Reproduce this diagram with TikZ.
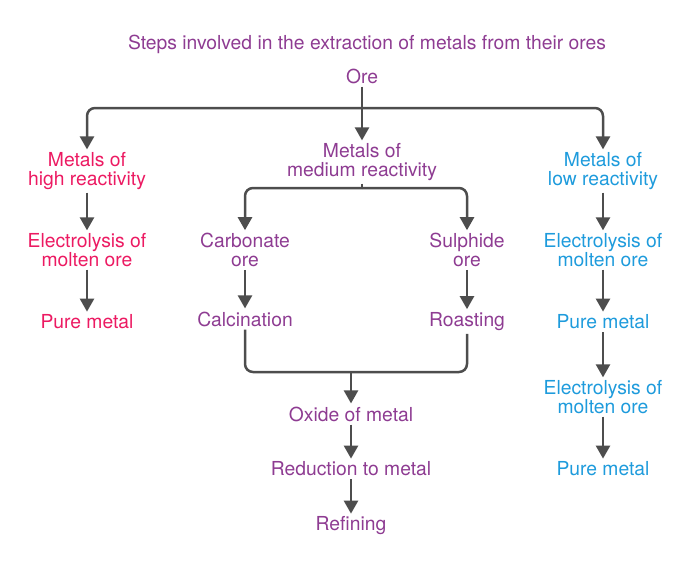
\documentclass[tikz,border=0pt]{standalone}
\usepackage{fontspec}
\setmainfont{TeX Gyre Heros}
\usetikzlibrary{arrows.meta,positioning}

\definecolor{oreviolet}{HTML}{8E3C92}
\definecolor{orepink}{HTML}{EC1A62}
\definecolor{oreblue}{HTML}{1E9BDC}
\definecolor{oregrey}{HTML}{4D4D4D}

\tikzset{
  steptext/.style={align=center,inner sep=3pt,font=\fontsize{19.3}{18.5}\selectfont},
  high/.style={steptext,text=orepink},
  medium/.style={steptext,text=oreviolet},
  low/.style={steptext,text=oreblue},
  link/.style={draw=oregrey,line width=2.5pt,rounded corners=8pt},
  arr/.style={link,-{Triangle[length=13pt,width=14pt]}}
}

\begin{document}
\begin{tikzpicture}[x=1pt,y=-1pt]
  \useasboundingbox (0,0) rectangle (700,575);

  % Title and the ore
  \node[medium] (title) at (367,44) {Steps involved in the extraction of metals from their ores};
  \node[medium] (ore) at (362,76) {Ore};

  % Three groups of metals
  \node[high]   (highm) at (87,171)  {Metals of\\high reactivity};
  \node[medium] (medm)  at (362,162) {Metals of\\medium reactivity};
  \node[low]    (lowm)  at (603,171) {Metals of\\low reactivity};

  \coordinate (split) at (362,108);
  \draw[link] (ore) -- (split);
  \draw[arr] (split) -| (highm);
  \draw[arr] (split) -| (lowm);
  \draw[arr] (split) -- (medm);

  % High reactivity
  \node[high] (elechigh) at (87,250) {Electrolysis of\\molten ore};
  \node[high] (purehigh) at (87,322) {Pure metal};
  \draw[arr] (highm) -- (elechigh);
  \draw[arr] (elechigh) -- (purehigh);

  % Medium reactivity
  \node[medium] (carb) at (245,250) {Carbonate\\ore};
  \node[medium] (sulph) at (467,250) {Sulphide\\ore};
  \coordinate (fork) at (362,188);
  \draw[link] (medm) -- (fork);
  \draw[arr] (fork) -| (carb);
  \draw[arr] (fork) -| (sulph);

  \node[medium] (calc)  at (245,319) {Calcination};
  \node[medium] (roast) at (467,321.5) {Roasting};
  \draw[arr] (carb) -- (calc);
  \draw[arr] (sulph) -- (roast);

  \node[medium] (oxide)  at (351,414) {Oxide of metal};
  \node[medium] (reduce) at (351,469) {Reduction to metal};
  \node[medium] (refine) at (351,526) {Refining};
  \coordinate (join) at (351,372);
  \draw[link] (calc.south) |- (join) -| (roast.south);
  \draw[arr] (join) -- (oxide);
  \draw[arr] (oxide) -- (reduce);
  \draw[arr] (reduce) -- (refine);

  % Low reactivity
  \node[low] (eleclow)  at (603,250) {Electrolysis of\\molten ore};
  \node[low] (purelow)  at (603,322) {Pure metal};
  \node[low] (eleclowb) at (603,397) {Electrolysis of\\molten ore};
  \node[low] (purelowb) at (603,469) {Pure metal};
  \draw[arr] (lowm) -- (eleclow);
  \draw[arr] (eleclow) -- (purelow);
  \draw[arr] (purelow) -- (eleclowb);
  \draw[arr] (eleclowb) -- (purelowb);
\end{tikzpicture}
\end{document}
